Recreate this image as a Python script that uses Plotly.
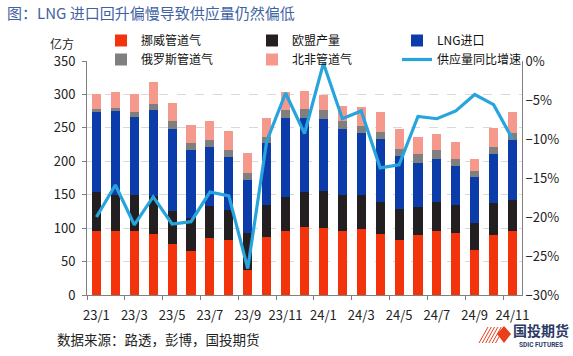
import plotly.graph_objects as go

months = ["23/1","23/2","23/3","23/4","23/5","23/6","23/7","23/8","23/9","23/10","23/11","23/12",
          "24/1","24/2","24/3","24/4","24/5","24/6","24/7","24/8","24/9","24/10","24/11"]

norway = [95, 95, 95, 91, 77, 66, 85, 82, 37, 87, 96, 101, 100, 96, 99, 91, 82, 90, 95, 92, 68, 90, 96]
eu_prod = [59, 55, 55, 57, 48, 49, 48, 45, 56, 48, 50, 53, 55, 54, 50, 48, 47, 41, 44, 43, 40, 47, 46]
lng = [119, 125, 116, 128, 124, 102, 89, 80, 79, 92, 119, 111, 109, 99, 93, 94, 79, 67, 65, 58, 68, 74, 90]
russia = [5, 5, 7, 9, 11, 11, 10, 10, 10, 10, 12, 13, 12, 11, 11, 11, 11, 13, 13, 11, 9, 11, 11]
n_africa = [22, 24, 28, 34, 27, 26, 28, 29, 31, 28, 26, 27, 23, 22, 28, 30, 30, 25, 24, 25, 19, 28, 30]
yoy = [-20.0, -15.9, -21.0, -17.4, -20.9, -20.6, -16.8, -17.3, -26.6, -10.3, -4.1, -9.3,
       -0.3, -7.4, -6.4, -13.7, -13.3, -7.1, -7.4, -6.4, -4.3, -5.6, -10.0]

# (name, values, colour, legend column)
series = [
    ("挪威管道气", norway, "#f3330c", "legend"),
    ("欧盟产量", eu_prod, "#231f20", "legend2"),
    ("LNG进口", lng, "#0b3caa", "legend3"),
    ("俄罗斯管道气", russia, "#7f7f7f", "legend"),
    ("北非管道气", n_africa, "#f4998c", "legend2"),
]

FONT = "Noto Sans CJK SC"
fig = go.Figure()
for name, vals, col, lg in series:
    fig.add_trace(go.Bar(x=months, y=vals, name=name, marker_color=col,
                         marker_line_width=0, yaxis="y", legend=lg, legendgroup=name))
fig.add_trace(go.Scatter(x=months, y=yoy, name="供应量同比增速", mode="lines",
                         line=dict(color="#27a4dd", width=3.2), yaxis="y2",
                         legend="legend3", legendgroup="yoy"))

def legend_cfg(xpix):
    return dict(orientation="v", xref="container", yref="container",
                x=xpix / 573, y=1 - 26 / 356, xanchor="left", yanchor="top",
                itemwidth=30, font=dict(size=12, color="#111111"),
                bgcolor="rgba(0,0,0,0)", tracegroupgap=2, traceorder="normal")

fig.update_layout(
    width=573, height=356,
    margin=dict(l=87, r=51, t=61, b=61, autoexpand=False),
    paper_bgcolor="white", plot_bgcolor="white",
    barmode="stack", bargap=0.52,
    font=dict(family=FONT, size=12, color="#222222"),
    showlegend=True,
    legend=legend_cfg(101),
    legend2=legend_cfg(252),
    legend3=legend_cfg(397),
    xaxis=dict(type="category", tickmode="linear", dtick=2, tickson="boundaries",
               ticks="outside", ticklen=4, tickcolor="#808080", tickangle=0,
               showline=True, linecolor="#808080", linewidth=1,
               showgrid=False, tickfont=dict(size=13, color="#222222"),
               ticklabelstandoff=8, range=[-0.5, 22.5]),
    yaxis=dict(range=[0, 350], dtick=50, showline=True, linecolor="#808080",
               ticks="outside", ticklen=4, tickcolor="#808080",
               showgrid=True, gridcolor="#d9d9d9", griddash="dash", gridwidth=1,
               zeroline=False, tickfont=dict(size=13, color="#222222"),
               ticklabelstandoff=4),
    yaxis2=dict(range=[-30, 0], dtick=5, overlaying="y", side="right",
                ticksuffix="%", showline=True, linecolor="#808080",
                showgrid=False, zeroline=False, ticks="",
                tickfont=dict(size=13, color="#222222")),
)

def px(xp):
    return (xp - 87) / 435
def py(yp):
    return (295 - yp) / 234

fig.add_annotation(text="图：LNG 进口回升偏慢导致供应量仍然偏低", xref="paper", yref="paper",
                   x=px(5), y=py(12), xanchor="left", yanchor="middle",
                   showarrow=False, font=dict(size=15, color="#3f62a3", family=FONT))
fig.add_annotation(text="亿方", xref="paper", yref="paper",
                   x=px(62), y=py(43), xanchor="center", yanchor="middle",
                   showarrow=False, font=dict(size=12, color="#222222"))
fig.add_annotation(text="数据来源：路透，彭博，国投期货", xref="paper", yref="paper",
                   x=px(55), y=py(339), xanchor="left", yanchor="middle",
                   showarrow=False, font=dict(size=13.5, color="#222222"))

# logo
fig.add_shape(type="path", xref="paper", yref="paper",
              path=f"M {px(504)} {py(326)} L {px(511)} {py(334)} L {px(504)} {py(343)} L {px(497)} {py(334)} Z",
              fillcolor="#e8401c", line_width=0)
for k in range(6):
    x0 = 479 + k * 3.3
    fig.add_shape(type="line", xref="paper", yref="paper",
                  x0=px(x0), y0=py(343), x1=px(x0 + 9), y1=py(327),
                  line=dict(color="#e8401c", width=1))
fig.add_annotation(text="<b>国投期货</b>", xref="paper", yref="paper",
                   x=px(541), y=py(330), xanchor="center", yanchor="middle",
                   showarrow=False, font=dict(size=14, color="#2b3a66"))
fig.add_annotation(text="<b>SDIC FUTURES</b>", xref="paper", yref="paper",
                   x=px(541), y=py(345), xanchor="center", yanchor="middle",
                   showarrow=False, font=dict(size=6.5, color="#2b3a66", family="Roboto"))

fig.write_html("out.html", config={"displayModeBar": False},
               post_script="document.body.style.margin='0';")
